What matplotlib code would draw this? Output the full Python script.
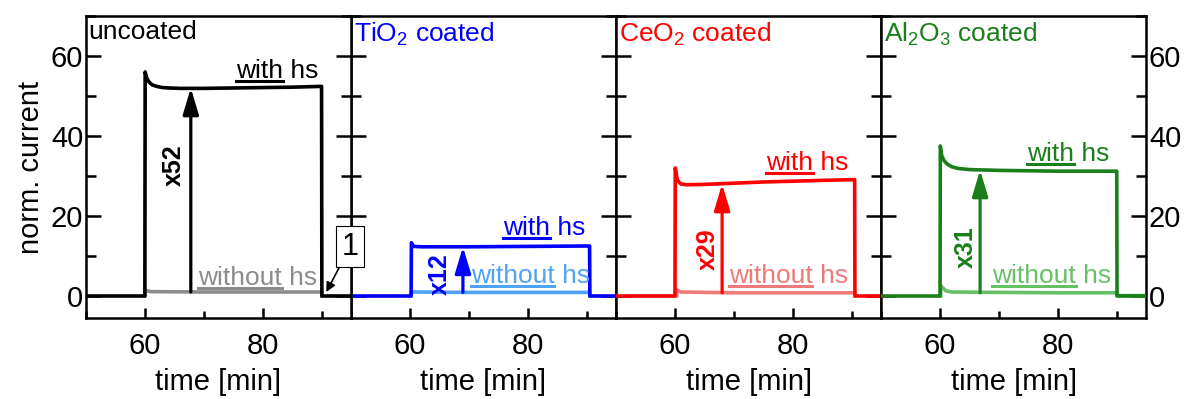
import numpy as np
import matplotlib.pyplot as plt
from matplotlib.lines import Line2D
from matplotlib.ticker import MultipleLocator

plt.rcParams['font.family'] = ['Liberation Sans', 'DejaVu Sans']
plt.rcParams['mathtext.default'] = 'regular'

# ---- data ----
titles = ["uncoated", "TiO$_2$ coated", "CeO$_2$ coated", "Al$_2$O$_3$ coated"]
factors = ["x52", "x12", "x29", "x31"]

# with hs
t_with_unc = [50, 60, 60.05, 60.3, 60.7, 61.2, 62, 63, 64, 66, 70, 75, 80, 85, 90.0, 90.05, 95]
v_with_unc = [0, 0, 56, 54.5, 53.5, 52.8, 52.4, 52.1, 52.0, 51.9, 51.9, 52.0, 52.1, 52.2, 52.4, 0, 0]
t_with_tio = [50, 60.2, 60.25, 60.6, 62, 70, 80, 90.5, 90.55, 95]
v_with_tio = [0, 0, 13.3, 12.4, 12.3, 12.3, 12.4, 12.5, 0, 0]
t_with_ceo = [50, 60, 60.05, 60.4, 61, 62, 65, 70, 75, 80, 85, 90.5, 90.55, 95]
v_with_ceo = [0, 0, 32, 29, 28, 27.8, 27.9, 28.2, 28.5, 28.7, 28.9, 29.1, 0, 0]
t_with_alo = [50, 60, 60.05, 60.3, 60.7, 61.2, 62, 63, 65, 70, 80, 90, 90.05, 95]
v_with_alo = [0, 0, 37.5, 35, 33.8, 33.0, 32.3, 31.9, 31.6, 31.4, 31.2, 31.2, 0, 0]

# without hs
t_wo_unc = [60, 60.05, 61, 70, 80, 90, 90.05]
v_wo_unc = [0, 1.4, 1.1, 1.0, 1.0, 1.0, 0]
t_wo_tio = [60.2, 60.25, 70, 90.5, 90.55]
v_wo_tio = [0, 1.0, 0.9, 0.9, 0]
t_wo_ceo = [60.3, 60.35, 61, 70, 90.5, 90.55]
v_wo_ceo = [0, 1.5, 1.0, 0.8, 0.8, 0]
t_wo_alo = [60.1, 60.15, 61, 62, 70, 80, 90, 90.05, 95]
v_wo_alo = [0, 2.5, 1.3, 1.0, 0.9, 0.8, 0.8, 0.1, 0.1]

# arrows: x position, base, tip
arrow_x = [67.8, 69.0, 68.0, 66.8]
arrow_base = [1.0, 0.9, 0.8, 0.8]
arrow_tip = [52.0, 12.3, 28.0, 31.5]
# factor label centers
factor_x = [64.9, 65.0, 65.5, 64.3]
factor_y = [32.7, 5.5, 11.6, 12.3]
# "with hs" / "without hs" label anchors (left, baseline)
with_xy = [(75.4, 54.5), (75.8, 15.3), (75.5, 31.6), (74.7, 33.7)]
wo_xy = [(69.0, 2.8), (70.3, 3.2), (69.1, 3.2), (68.8, 3.2)]

with_t = [t_with_unc, t_with_tio, t_with_ceo, t_with_alo]
with_v = [v_with_unc, v_with_tio, v_with_ceo, v_with_alo]
wo_t = [t_wo_unc, t_wo_tio, t_wo_ceo, t_wo_alo]
wo_v = [v_wo_unc, v_wo_tio, v_wo_ceo, v_wo_alo]

# ---- styles ----
dark = ["black", "#0000ff", "#ff0000", "#1a7f1a"]
light = ["#8c8c8c", "#4fa3f7", "#f07a7a", "#66c066"]

fig = plt.figure(figsize=(11.89, 3.99), dpi=100)
axes = fig.subplots(1, 4, sharey=True)
fig.subplots_adjust(left=0.0723, right=0.964, bottom=0.203, top=0.96, wspace=0)

FS = 21
TS = 19
underlines = []

for i, ax in enumerate(axes):
    ax.plot(wo_t[i], wo_v[i], color=light[i], lw=2.6, zorder=2)
    ax.plot(with_t[i], with_v[i], color=dark[i], lw=2.6, zorder=3)

    ax.annotate("", xy=(arrow_x[i], arrow_tip[i]), xytext=(arrow_x[i], arrow_base[i]),
                arrowprops=dict(arrowstyle="-|>,head_length=1.0,head_width=0.3",
                                color=dark[i], lw=2.3, shrinkA=0, shrinkB=0,
                                mutation_scale=16), zorder=4)
    ax.text(factor_x[i], factor_y[i], factors[i], rotation=90, color=dark[i],
            fontsize=18, fontweight="bold", ha="center", va="center")

    tw = ax.text(*with_xy[i], "with hs", color=dark[i], fontsize=TS,
                 ha="left", va="baseline")
    two = ax.text(*wo_xy[i], "without hs", color=light[i], fontsize=TS,
                  ha="left", va="baseline", zorder=5)
    underlines.append((ax, tw, "with", dark[i]))
    underlines.append((ax, two, "without", light[i]))

    ax.text(0.01, 0.985, titles[i], transform=ax.transAxes, color=dark[i],
            fontsize=TS, ha="left", va="top")

    ax.set_xlim(50, 95)
    ax.set_ylim(-5.5, 70)
    ax.xaxis.set_major_locator(MultipleLocator(20))
    ax.xaxis.set_minor_locator(MultipleLocator(10))
    ax.yaxis.set_major_locator(MultipleLocator(20))
    ax.yaxis.set_minor_locator(MultipleLocator(10))
    ax.tick_params(axis="x", which="both", direction="in", top=False,
                   labelsize=FS, width=1.8, pad=10)
    ax.tick_params(axis="x", which="major", length=7)
    ax.tick_params(axis="x", which="minor", length=5)
    ax.tick_params(axis="y", which="both", direction="in", left=True, right=True,
                   labelsize=FS, width=1.8, labelleft=False)
    ax.tick_params(axis="y", which="major", length=11)
    ax.tick_params(axis="y", which="minor", length=7)
    for sp in ax.spines.values():
        sp.set_linewidth(1.8)
    ax.set_xlabel("time [min]", fontsize=FS, labelpad=6)

axes[0].tick_params(axis="y", labelleft=True, pad=2)
axes[3].tick_params(axis="y", labelright=True, pad=2)
axes[0].set_ylabel("norm. current", fontsize=FS, labelpad=4)

# small "1" marker sitting on the border between the first two panels
axes[0].set_zorder(2)
axes[0].annotate("1", xy=(90.8, 1.0), xytext=(94.85, 12.3), fontsize=22,
                 ha="center", va="center", annotation_clip=False,
                 bbox=dict(boxstyle="square,pad=0.18", fc="white", ec="black", lw=0.8),
                 arrowprops=dict(arrowstyle="-|>", color="black", lw=1.2,
                                 shrinkA=0, shrinkB=0, mutation_scale=14),
                 zorder=10)

# underline the first word of each "with hs"/"without hs" label
fig.canvas.draw()
renderer = fig.canvas.get_renderer()
inv = fig.transFigure.inverted()
for ax, txt, word, col in underlines:
    tmp = ax.text(0, 0, word, fontsize=TS)
    w = tmp.get_window_extent(renderer).width
    tmp.remove()
    bb = txt.get_window_extent(renderer)
    base = ax.transData.transform(txt.get_position())[1] - 3
    p0 = inv.transform((bb.x0, base))
    p1 = inv.transform((bb.x0 + w, base))
    fig.add_artist(Line2D([p0[0], p1[0]], [p0[1], p1[1]], color=col, lw=2.2,
                          transform=fig.transFigure, zorder=6))

fig.savefig("out.png", dpi=100)
